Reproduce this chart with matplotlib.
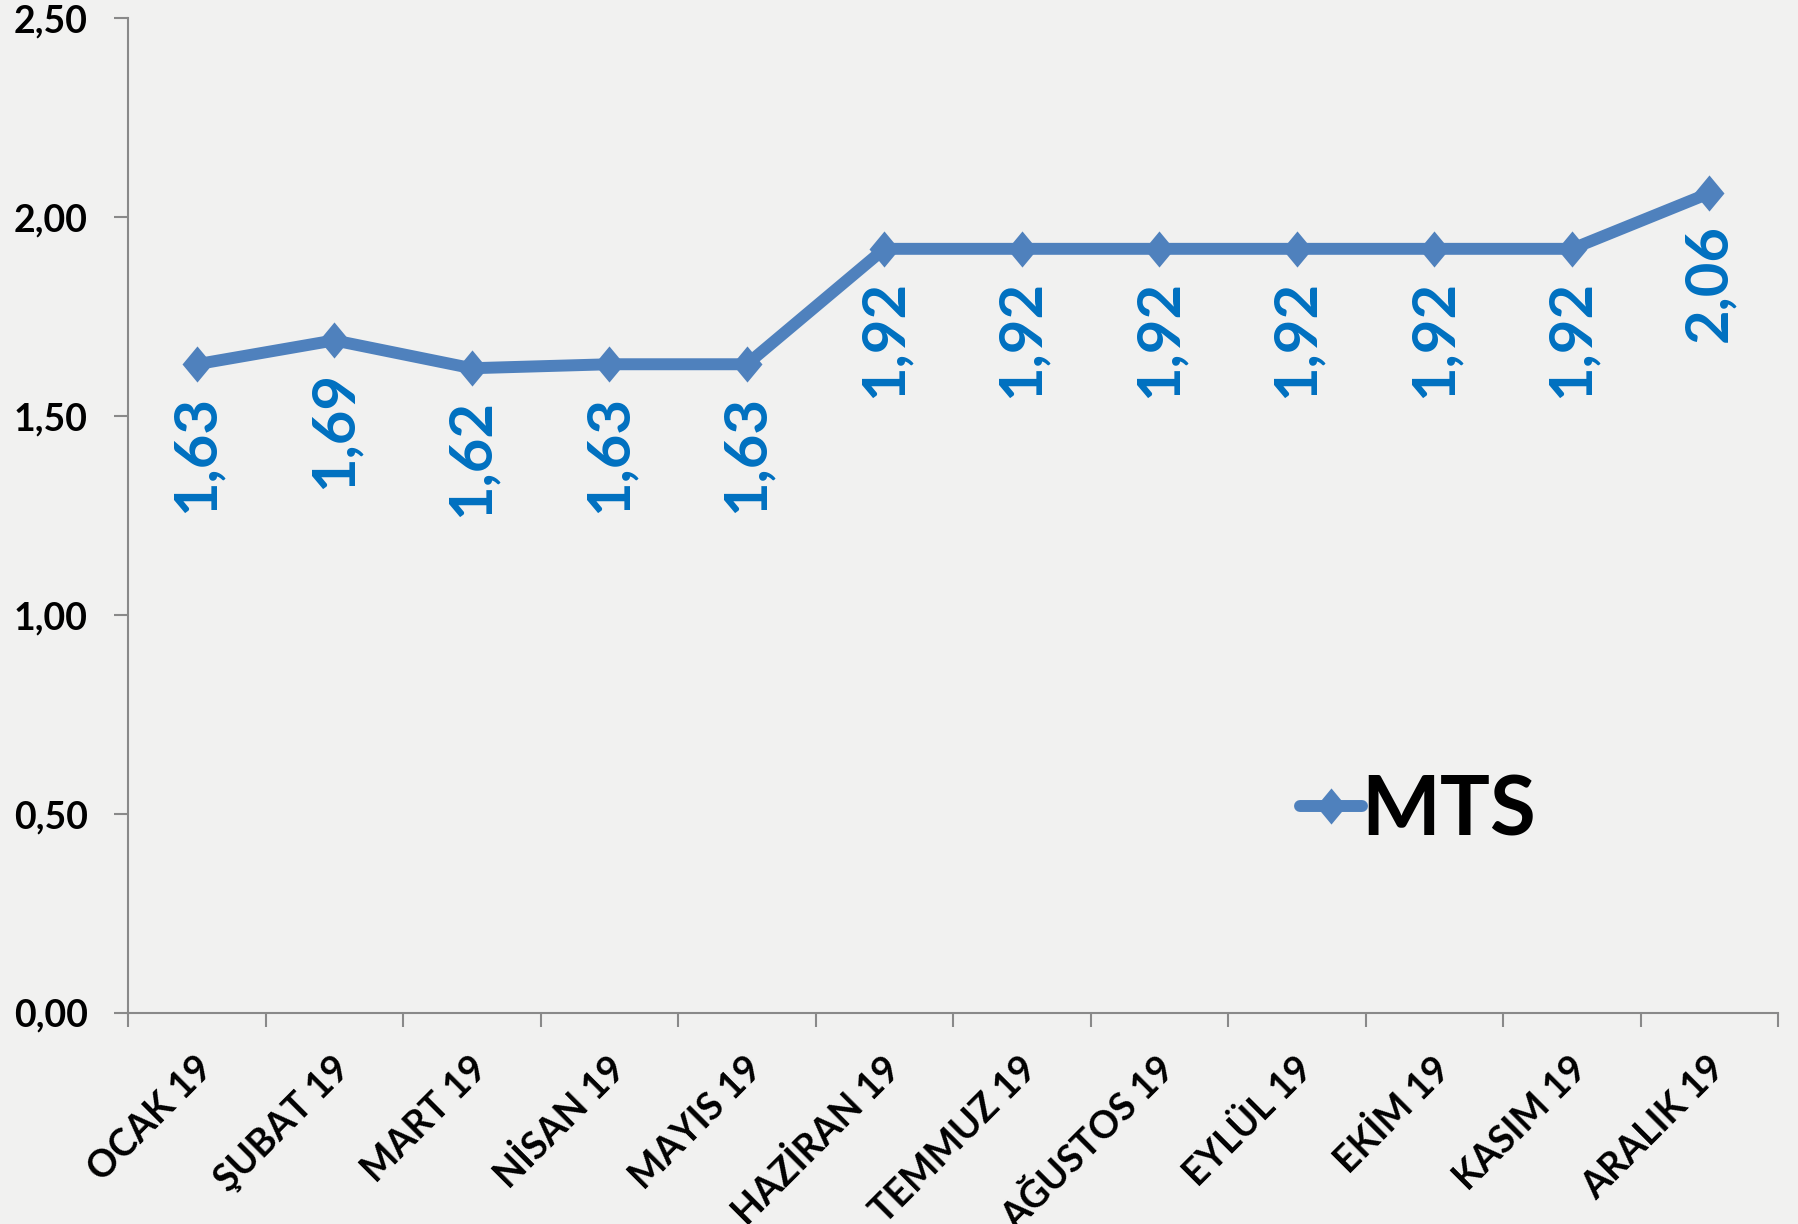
import numpy as np
import matplotlib.pyplot as plt
from matplotlib.ticker import FixedLocator, FuncFormatter
from matplotlib.transforms import ScaledTranslation

plt.rcParams['font.family'] = ['Lato', 'DejaVu Sans']
plt.rcParams['font.weight'] = 'bold'

aylar = ["OCAK 19", "ŞUBAT 19", "MART 19", "NİSAN 19", "MAYIS 19", "HAZİRAN 19",
         "TEMMUZ 19", "AĞUSTOS 19", "EYLÜL 19", "EKİM 19", "KASIM 19", "ARALIK 19"]
mts = [1.63, 1.69, 1.62, 1.63, 1.63, 1.92, 1.92, 1.92, 1.92, 1.92, 1.92, 2.06]
y_ticks = [0.0, 0.5, 1.0, 1.5, 2.0, 2.5]

mavi = "#4F81BD"
etiket_mavi = "#0070C0"
eksen_gri = "#898989"
zemin = "#F1F1F0"

fig = plt.figure(figsize=(17.98, 12.24), dpi=100, facecolor=zemin)
ax = fig.add_axes([0.0712, 0.1724, 0.9178, 0.8129])
ax.set_facecolor(zemin)

x = np.arange(len(aylar))
elmas = [(0, 1), (0.83, 0), (0, -1), (-0.83, 0)]
ax.plot(x, mts, color=mavi, linewidth=8.6, marker=elmas, markersize=26,
        markerfacecolor=mavi, markeredgewidth=0, label="MTS",
        solid_joinstyle='round', solid_capstyle='round')

# deger etiketleri, noktanin altinda dikey
for xi, yi in zip(x, mts):
    ax.annotate("{:.2f}".format(yi).replace(".", ","), (xi, yi),
                xytext=(0, -22), textcoords='offset points',
                rotation=90, ha='center', va='top',
                color=etiket_mavi, fontsize=43, fontweight='bold')

ax.set_xlim(-0.5, len(aylar) - 0.5)
ax.set_ylim(0, 2.5)

ax.spines['top'].set_visible(False)
ax.spines['right'].set_visible(False)
for s in ['left', 'bottom']:
    ax.spines[s].set_color(eksen_gri)
    ax.spines[s].set_linewidth(1.5)

ax.yaxis.set_major_locator(FixedLocator(y_ticks))
ax.yaxis.set_major_formatter(FuncFormatter(lambda v, p: "{:.2f}".format(v).replace(".", ",")))
ax.tick_params(axis='y', direction='out', length=10, width=1.5, color=eksen_gri,
               pad=19, labelsize=27)

ax.set_xticks(x)
ax.set_xticklabels(aylar, rotation=45, ha='right', va='center',
                   rotation_mode='anchor')
ax.set_xticks(np.arange(len(aylar) + 1) - 0.5, minor=True)
ax.tick_params(axis='x', which='major', length=0, pad=36, labelsize=27)
ax.tick_params(axis='x', which='minor', direction='out', length=10, width=1.5,
               color=eksen_gri)

# ay etiketlerini biraz saga kaydir
kaydir = ScaledTranslation(7 / 72, 0, fig.dpi_scale_trans)
for lbl in ax.get_xticklabels():
    lbl.set_transform(lbl.get_transform() + kaydir)

leg = ax.legend(loc='center left', bbox_to_anchor=(1300 / 1798, 1 - 812 / 1224),
                bbox_transform=fig.transFigure, frameon=False, fontsize=60,
                handlelength=0.74, handletextpad=0.0, borderpad=0, borderaxespad=0)
for t in leg.get_texts():
    t.set_fontweight('bold')

fig.savefig("out.png", dpi=100, facecolor=zemin)
